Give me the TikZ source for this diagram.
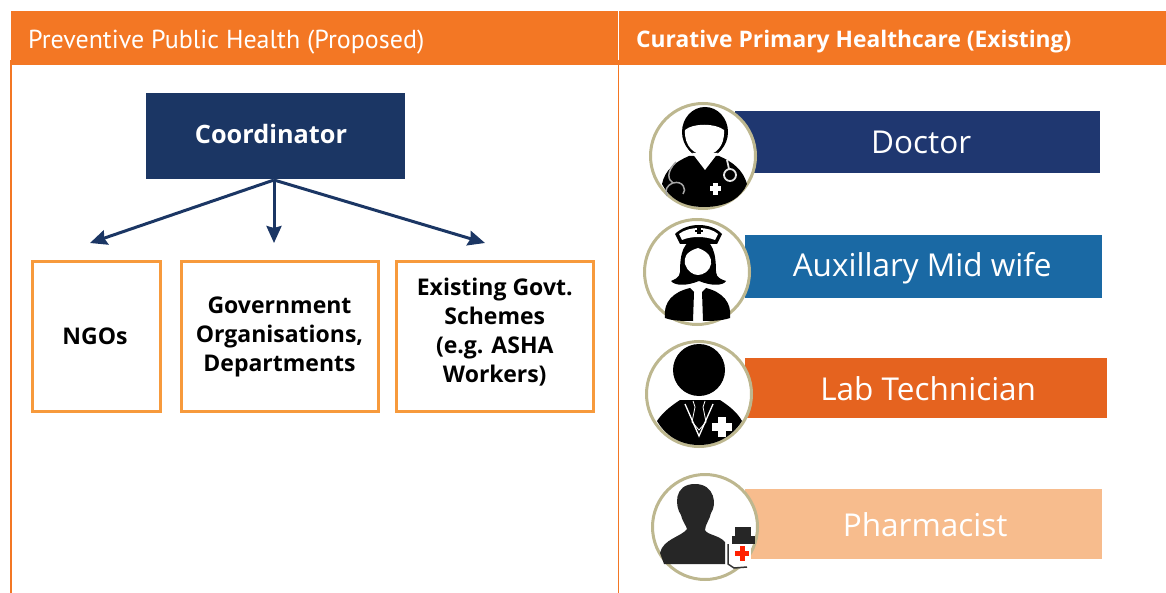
\documentclass[tikz,border=0pt]{standalone}
\usepackage{fontspec}
\setmainfont{PT Sans}
\newfontfamily\barfont{Open Sans}
\usepackage{xcolor}
\usetikzlibrary{arrows.meta,positioning}
\definecolor{headorange}{HTML}{F37724}
\definecolor{boxorange}{HTML}{F79A3C}
\definecolor{navy}{HTML}{1B3664}
\definecolor{ringcol}{HTML}{BDB78F}
\definecolor{doccol}{HTML}{1F3770}
\definecolor{midcol}{HTML}{1A69A4}
\definecolor{labcol}{HTML}{E5631F}
\definecolor{phacol}{HTML}{F7BC8D}
\tikzset{
	x=1pt,y=-1pt,
	>={Stealth[length=17pt,width=15pt,inset=2pt]},
	header/.style={
			rectangle, fill=headorange, text=white, inner sep=0pt, minimum height=54pt,
			anchor=north west,
		},
	headtext/.style={
			text=white, inner sep=0pt, anchor=west, font=\fontsize{26}{30}\selectfont,
		},
	coord/.style={
			rectangle, fill=navy, text=white, inner sep=0pt, minimum width=259pt,
			minimum height=86pt, font=\barfont\fontsize{25.3}{30}\selectfont\bfseries,
		},
	member/.style={
			rectangle, draw=boxorange, line width=3pt, inner sep=0pt, outer sep=0pt,
			align=center, anchor=north west, minimum height=149pt,
			font=\barfont\fontsize{23}{29}\selectfont\bfseries,
		},
	rolebar/.style={
			rectangle, text=white, inner sep=0pt, anchor=north west,
			font=\barfont\fontsize{31.5}{36}\selectfont,
		},
	badge/.style={
			circle, draw=ringcol, fill=white, line width=3pt, inner sep=0pt,
			minimum size=105pt,
		},
	link/.style={->, draw=navy, line width=3pt},
}
\begin{document}
\begin{tikzpicture}
	\useasboundingbox (0,0) rectangle (1166,593);

	% Column rules and headers
	\draw[headorange, line width=1.2pt] (11,60) -- (11,593);
	\draw[headorange, line width=1.2pt] (618.5,60) -- (618.5,593);
	\node [header, minimum width=607pt] (left) at (11,11) {};
	\node [header, minimum width=547pt] (right) at (619,11) {};
	\node [headtext] (lefttitle) at (28,42) {Preventive Public Health (Proposed)};
	\node [headtext, font=\barfont\fontsize{22.8}{30}\selectfont\bfseries] (righttitle) at (636,41.5) {Curative Primary Healthcare (Existing)};

	% Left column
	\node [coord] (coordinator) at (275.5,136) {\hspace*{-9pt}Coordinator\rule[-4pt]{0pt}{1pt}};
	\node [member, minimum width=128pt] (ngo) at (32.5,262) {\hspace*{-3pt}NGOs};
	\node [member, minimum width=197pt, right=20.5pt of ngo] (govt) {Government\\ Organisations,\\ Departments};
	\node [member, minimum width=196.5pt, right=18.5pt of govt] (scheme) {Existing Govt.\\ Schemes\\ (e.g. ASHA\\ Workers)\\[-16pt]};

	\coordinate (tipa) at (90,243);
	\coordinate (tipb) at (274,243);
	\coordinate (tipc) at (485,243);
	\coordinate (hub) at (274,180);
	\draw[link] (hub) -- (tipa);
	\draw[link] (hub) -- (tipb);
	\draw[link] (hub) -- (tipc);

	% Right column bars
	\node [rolebar, fill=doccol, minimum width=365pt, minimum height=62pt] (doctor) at (735,111) {\hspace*{7pt}Doctor};
	\node [rolebar, fill=midcol, minimum width=357pt, minimum height=63pt] (midwife) at (745,235) {\hspace*{-3pt}Auxillary Mid wife\rule{0pt}{28pt}};
	\node [rolebar, fill=labcol, minimum width=362pt, minimum height=60pt] (lab) at (745,358) {\hspace*{4pt}Lab Technician};
	\node [rolebar, fill=phacol, minimum width=357pt, minimum height=70pt] (pharma) at (745,489) {\hspace*{3pt}Pharmacist};

	\node [badge] (docicon) at (703,156) {};
	\node [badge] (miicon) at (697,272) {};
	\node [badge] (labicon) at (699,394) {};
	\node [badge] (phaicon) at (705,527) {};

	% Doctor
	\begin{scope}[shift={(docicon.center)}]
		\fill[black] (-41,28) .. controls (-38,14) and (-28,6) .. (-14,0) -- (16,0)
		.. controls (30,6) and (40,14) .. (44,28) .. controls (38,42) and (24,51) .. (1,51)
		.. controls (-20,51) and (-34,42) .. (-41,28) -- cycle;
		\fill[black] (2,-24) ellipse [x radius=23, y radius=25];
		\fill[black] (-20,-26) .. controls (-20,-8) and (-10,2) .. (2,2) .. controls (14,2) and (24,-8) .. (24,-26) -- cycle;
		\fill[white] (-18,-26) .. controls (-10,-33) and (12,-33) .. (21,-26)
		.. controls (22,-9) and (12,-1) .. (2,-1) .. controls (-8,-1) and (-19,-9) .. (-18,-26) -- cycle;
		\fill[white] (-11,-3) -- (2,14) -- (15,-3) -- cycle;
		\draw[gray!70, line width=1.5pt] (-27,6) .. controls (-37,16) and (-35,24) .. (-30,27);
		\draw[gray!70, line width=1.5pt] (-30,27) .. controls (-20,24) and (-16,34) .. (-20,38);
		\draw[gray!70, line width=1.5pt] (-30,27) .. controls (-37,30) and (-38,34) .. (-36,40);
		\draw[black!10, line width=1.8pt] (27,19) circle [radius=6];
		\draw[black!10, line width=1.8pt] (24,4) -- (26,13);
		\fill[white] (10,27) rectangle (15,39);
		\fill[white] (7,30.5) rectangle (18,35.5);
	\end{scope}

	% Nurse
	\begin{scope}[shift={(miicon.center)}]
		\fill[black] (-22,-38) .. controls (-10,-50) and (14,-50) .. (25,-38) -- (20,-28) -- (-17,-28) -- cycle;
		\fill[white] (-18,-38) .. controls (-8,-46) and (12,-46) .. (21,-38) -- (18,-32) .. controls (8,-36) and (-6,-36) .. (-15,-32) -- cycle;
		\fill[black] (0,-44) rectangle (4,-38);
		\fill[black] (-2,-42) rectangle (6,-40);
		\fill[black] (2,-33) .. controls (-14,-33) and (-17,-18) .. (-17,0)
		.. controls (-17,6) and (-24,8) .. (-26,9) .. controls (-22,14) and (-10,14) .. (2,9)
		.. controls (14,14) and (26,14) .. (29,9) .. controls (26,8) and (19,6) .. (19,0)
		.. controls (19,-18) and (16,-33) .. (2,-33) -- cycle;
		\fill[white] (1,-24) .. controls (-12,-20) and (-13,-14) .. (-12,-8) .. controls (-10,-1) and (-4,3) .. (1,3)
		.. controls (6,3) and (13,-1) .. (14,-8) .. controls (15,-14) and (12,-20) .. (1,-24) -- cycle;
		\fill[black] (-32,46) .. controls (-34,30) and (-24,20) .. (-7,16) -- (-3,20) -- (-4,49) .. controls (-14,49) and (-24,49) .. (-32,46) -- cycle;
		\fill[black] (33,46) .. controls (35,30) and (25,20) .. (9,16) -- (5,20) -- (6,49) .. controls (14,49) and (24,49) .. (33,46) -- cycle;
	\end{scope}

	% Lab technician
	\begin{scope}[shift={(labicon.center)}]
		\fill[black] (0,-24) circle [radius=26];
		\fill[black] (-42,27) .. controls (-36,18) and (-28,12) .. (-19,6) -- (21,6)
		.. controls (30,12) and (38,18) .. (43,27) .. controls (32,44) and (16,51) .. (0,51)
		.. controls (-16,51) and (-32,44) .. (-42,27) -- cycle;
		\draw[white, line width=1.3pt] (-14,10) -- (0,42) -- (14,10);
		\draw[white, line width=.8pt] (-6,7) -- (-4,13) -- (-7,28) -- (0,36) -- (7,28) -- (4,13) -- (6,7);
		\fill[white] (19,23) rectangle (27,43);
		\fill[white] (13,29) rectangle (33,37);
	\end{scope}

	% Pharmacist
	\begin{scope}[shift={(phaicon.center)}]
		\fill[black!85] (-10,-43) .. controls (-32,-43) and (-30,-20) .. (-24,-12) .. controls (-22,-4) and (-19,-2) .. (-18,2)
		.. controls (-24,10) and (-42,12) .. (-45,26) -- (-41,37) -- (20,37) -- (20,15)
		.. controls (14,8) and (2,8) .. (0,3) .. controls (0,-2) and (5,-8) .. (6,-14)
		.. controls (12,-22) and (10,-43) .. (-10,-43) -- cycle;
		\fill[black!85] (30,0) rectangle (46,9);
		\fill[black!85] (27,9) rectangle (50,17);
		\fill[white] (23,17) rectangle (46,40);
		\draw[black!80, line width=1.5pt] (23,17) -- (23,37) -- (29,41) -- (42,40);
		\fill[red!75!orange] (34.5,19) rectangle (39.5,34);
		\fill[red!75!orange] (30,24) rectangle (44,29);
	\end{scope}
\end{tikzpicture}
\end{document}
